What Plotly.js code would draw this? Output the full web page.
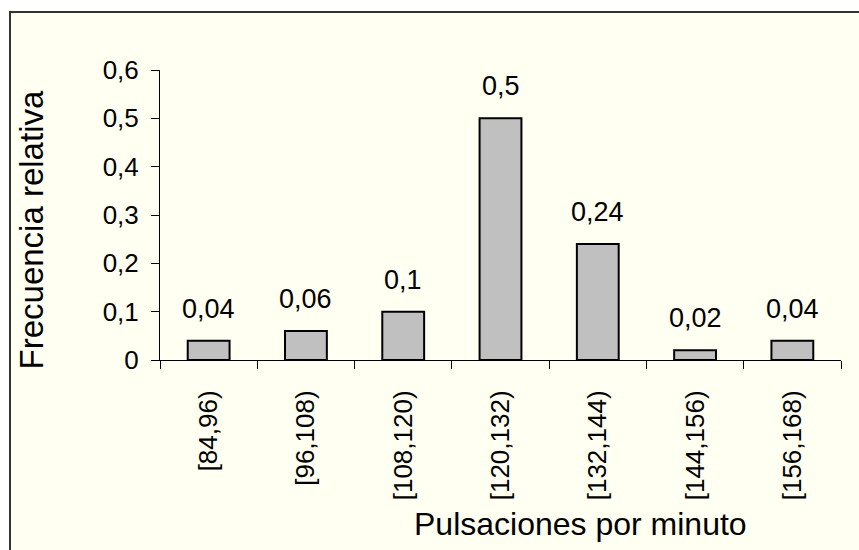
<!DOCTYPE html>
<html>
<head>
<meta charset="utf-8">
<script src="https://cdn.plot.ly/plotly-3.0.1.min.js"></script>
<style>
  html, body { margin: 0; padding: 0; background: #ffffff; }
  #frame { position: absolute; left: 9px; top: 11px; width: 860px; height: 550px;
           background: #FFFFF2; border-left: 2px solid #333; border-top: 2px solid #333; }
  #chart { position: absolute; left: 0; top: 0; width: 859px; height: 550px; }
</style>
</head>
<body>
<div id="frame"></div>
<div id="chart"></div>
<script>
const categories = ['[84,96)', '[96,108)', '[108,120)', '[120,132)', '[132,144)', '[144,156)', '[156,168)'];
const relFreq = [0.04, 0.06, 0.1, 0.5, 0.24, 0.02, 0.04];
const yTitle = 'Frecuencia relativa';
const xTitle = 'Pulsaciones por minuto';

const FONT = '"Liberation Sans", Arial, sans-serif';

const trace = {
  type: 'bar',
  x: categories,
  y: relFreq,
  marker: { color: '#C0C0C0', line: { color: '#000000', width: 2 } },
  hoverinfo: 'x+y'
};

const labelAnnotations = categories.map((c, i) => ({
  x: c, y: relFreq[i], xref: 'x', yref: 'y',
  text: String(relFreq[i]).replace('.', ','),
  showarrow: false, yanchor: 'bottom', yshift: 15,
  font: { family: FONT, size: 27, color: '#000' }
}));

const layout = {
  width: 859, height: 550,
  margin: { l: 160, r: 18, t: 70, b: 190 },
  paper_bgcolor: 'rgba(0,0,0,0)',
  plot_bgcolor: 'rgba(0,0,0,0)',
  separators: ',.',
  showlegend: false,
  bargap: 0.57,
  font: { family: FONT, size: 26, color: '#000' },
  xaxis: {
    type: 'category',
    showline: true, linecolor: '#000', linewidth: 1,
    ticks: 'outside', ticklen: 8, tickcolor: '#000', tickwidth: 1,
    tickson: 'boundaries',
    tickangle: -90,
    ticklabelstandoff: 19,
    showgrid: false, zeroline: false,
    tickfont: { family: FONT, size: 26, color: '#000' },
    automargin: false
  },
  yaxis: {
    range: [0, 0.6], tick0: 0, dtick: 0.1,
    showline: true, linecolor: '#000', linewidth: 1,
    ticks: 'outside', ticklen: 8, tickcolor: '#000', tickwidth: 1,
    ticklabelstandoff: 7,
    showgrid: false, zeroline: false,
    tickfont: { family: FONT, size: 26, color: '#000' },
    automargin: false
  },
  annotations: labelAnnotations.concat([
    { text: xTitle, xref: 'paper', yref: 'paper', x: 0.617, y: -0.565,
      xanchor: 'center', yanchor: 'middle', showarrow: false,
      font: { family: FONT, size: 32, color: '#000' } },
    { text: yTitle, xref: 'paper', yref: 'paper', x: -0.188, y: 0.45,
      xanchor: 'center', yanchor: 'middle', textangle: -90, showarrow: false,
      font: { family: FONT, size: 33, color: '#000' } }
  ])
};

Plotly.newPlot('chart', [trace], layout, { displayModeBar: false, staticPlot: true });
</script>
</body>
</html>
